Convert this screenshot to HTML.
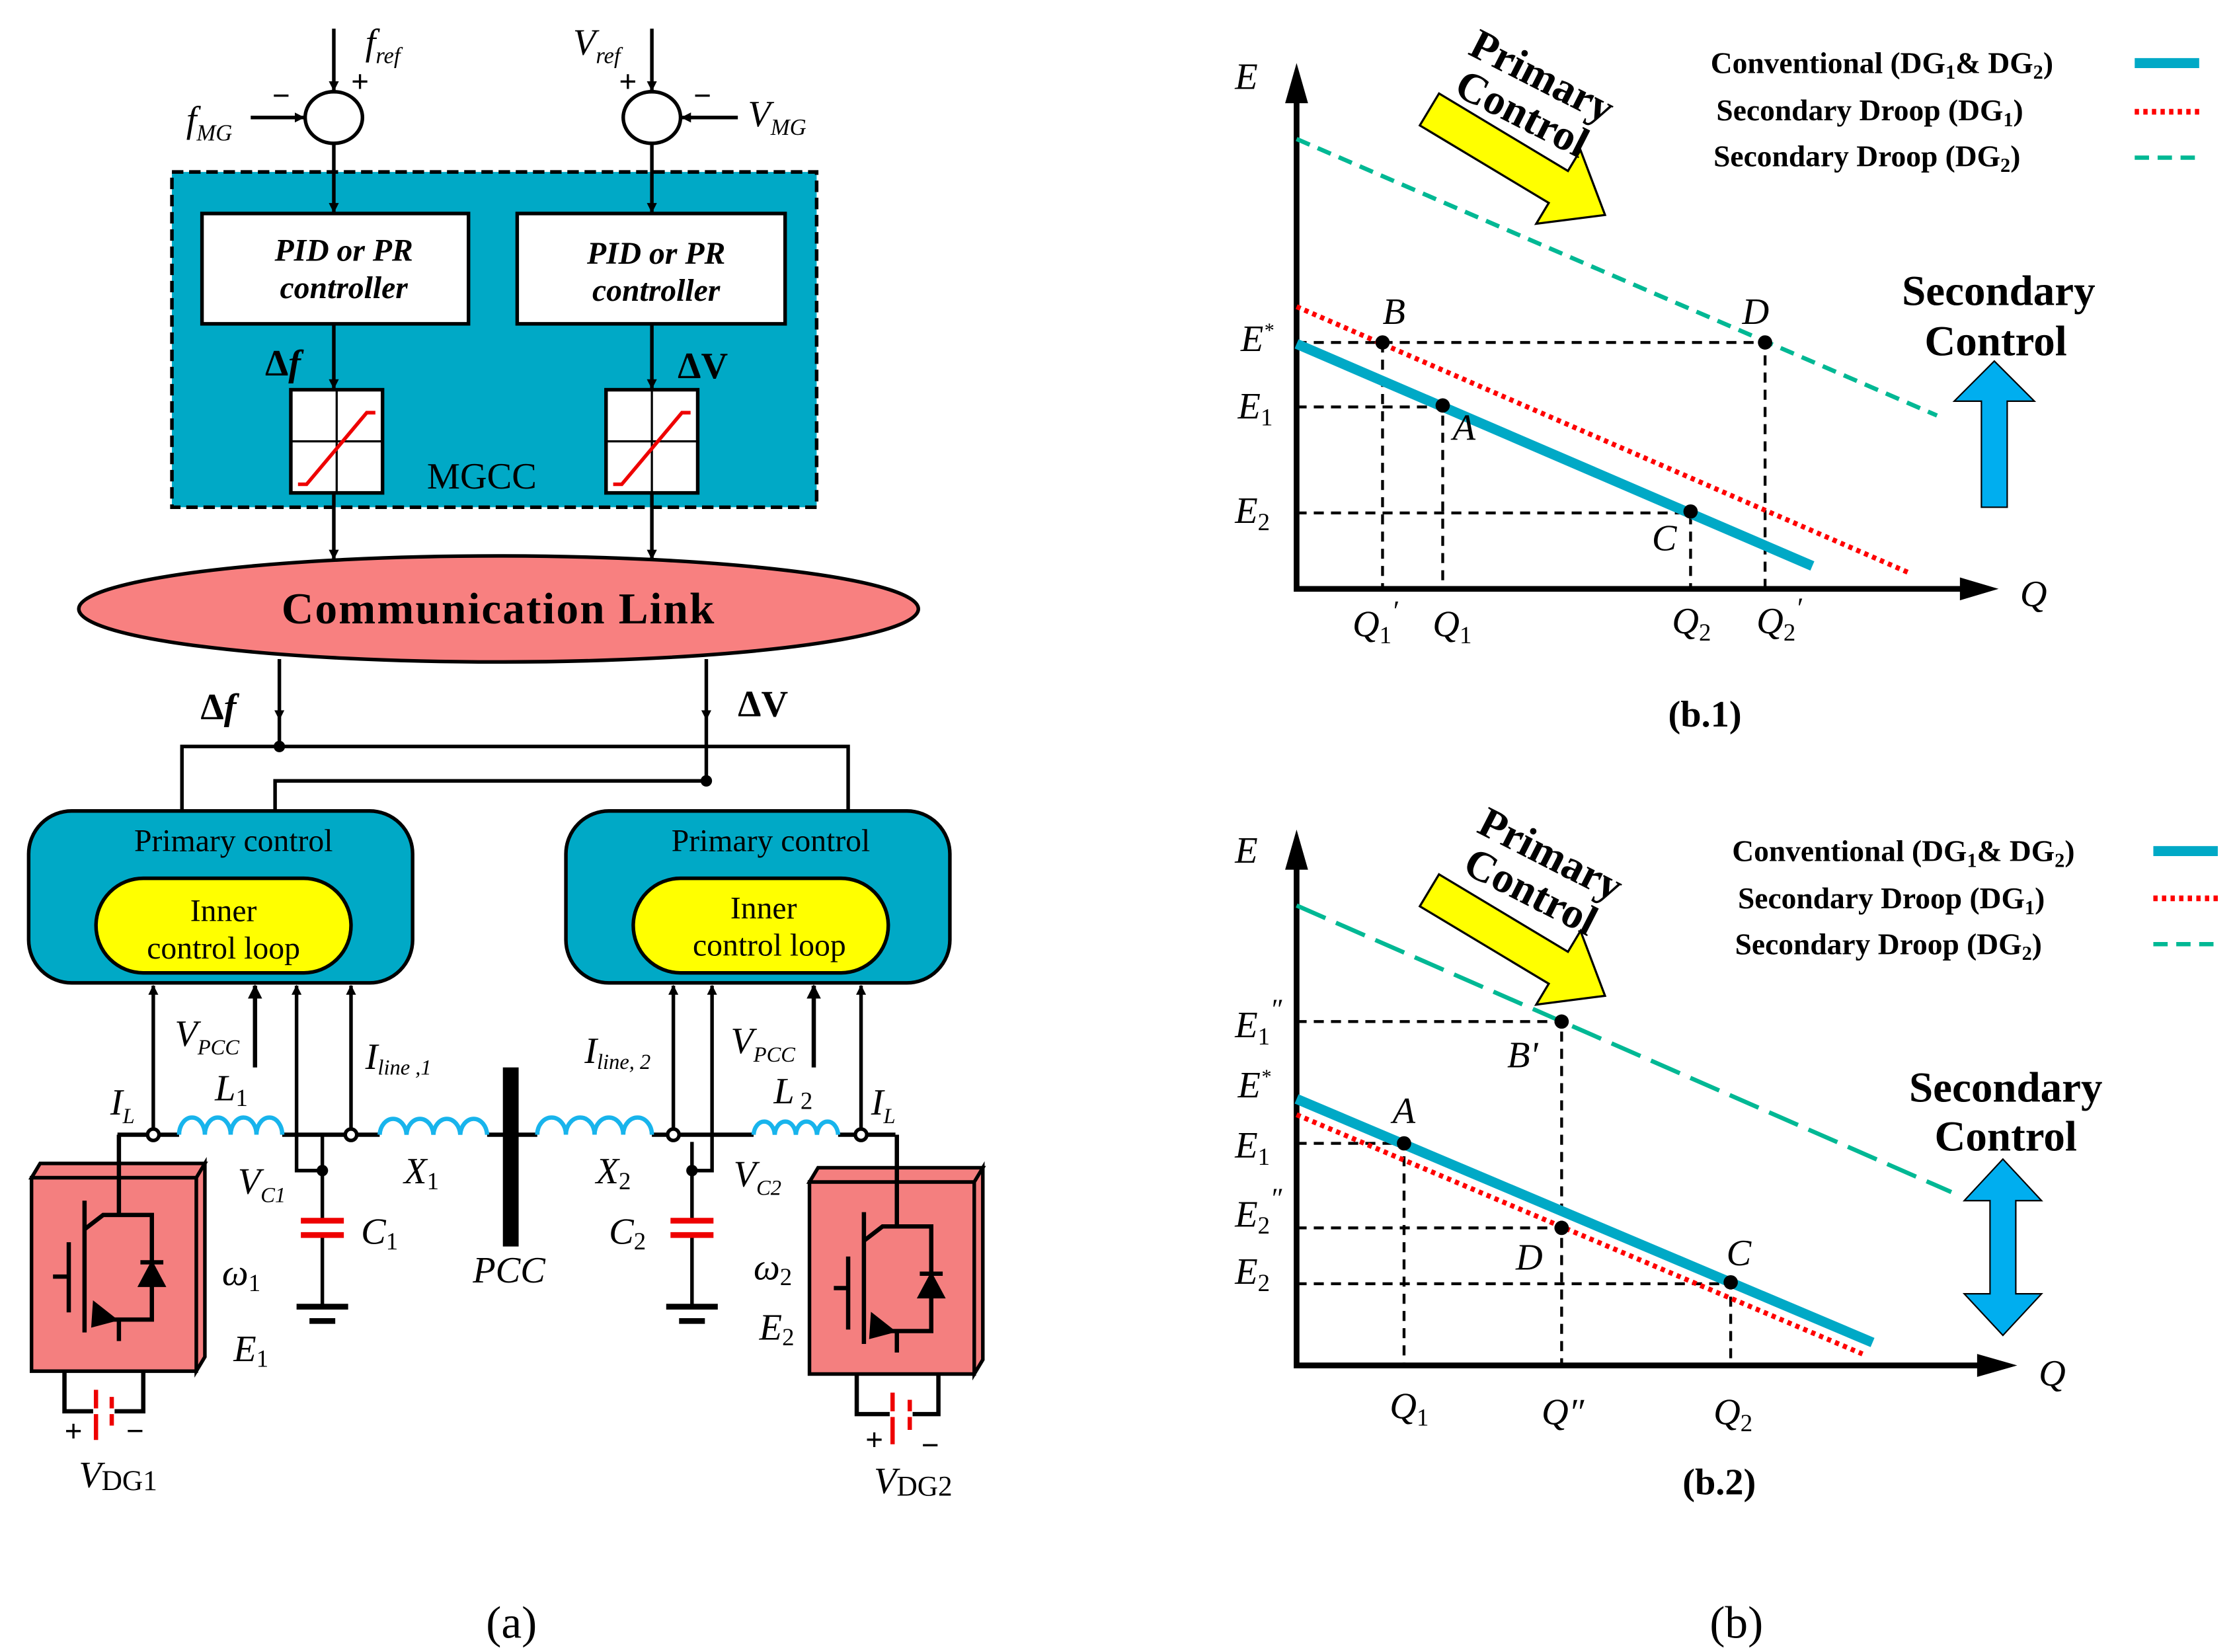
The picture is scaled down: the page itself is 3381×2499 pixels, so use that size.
<!DOCTYPE html>
<html><head><meta charset="utf-8"><style>html,body{margin:0;padding:0;background:#fff}svg{display:block}
text{font-family:"Liberation Serif",serif;fill:#000}</style></head><body>
<svg width="3381" height="2499" viewBox="0 0 1560 1153" xmlns="http://www.w3.org/2000/svg">
<defs>
<marker id="ah" viewBox="0 0 10 10" refX="9" refY="5" markerWidth="7" markerHeight="7" markerUnits="userSpaceOnUse" orient="auto"><path d="M0,0 L10,5 L0,10 z" fill="#000"/></marker>
<marker id="ab" viewBox="0 0 10 10" refX="9" refY="5" markerWidth="10" markerHeight="14" markerUnits="userSpaceOnUse" orient="auto"><path d="M0,0 L10,5 L0,10 z" fill="#000"/></marker>
</defs>
<g stroke="#000" stroke-width="2.5" fill="none">
<line x1="233" y1="20" x2="233" y2="63" marker-end="url(#ah)"/>
<line x1="175" y1="82" x2="212" y2="82" marker-end="url(#ah)"/>
<ellipse cx="233" cy="82" rx="20" ry="18" fill="#fff"/>
<line x1="455" y1="20" x2="455" y2="63" marker-end="url(#ah)"/>
<line x1="515" y1="82" x2="476" y2="82" marker-end="url(#ah)"/>
<ellipse cx="455" cy="82" rx="20" ry="18" fill="#fff"/>
<rect x="120" y="120" width="450" height="234" fill="#00a9c6" stroke-dasharray="8,4"/>
<line x1="233" y1="100" x2="233" y2="148" marker-end="url(#ah)"/>
<line x1="455" y1="100" x2="455" y2="148" marker-end="url(#ah)"/>
<rect x="141" y="149" width="186" height="77" fill="#fff"/>
<rect x="361" y="149" width="187" height="77" fill="#fff"/>
<line x1="233" y1="226" x2="233" y2="271" marker-end="url(#ah)"/>
<line x1="455" y1="226" x2="455" y2="271" marker-end="url(#ah)"/>
<rect x="203" y="272" width="64" height="72" fill="#fff"/>
<rect x="423" y="272" width="64" height="72" fill="#fff"/>
<line x1="203" y1="308" x2="267" y2="308" stroke-width="1.5"/><line x1="235" y1="272" x2="235" y2="344" stroke-width="1.5"/>
<line x1="423" y1="308" x2="487" y2="308" stroke-width="1.5"/><line x1="455" y1="272" x2="455" y2="344" stroke-width="1.5"/>
<path d="M208,338 L214,338 L256,288 L262,288" stroke="#e00"/>
<path d="M428,338 L434,338 L476,288 L482,288" stroke="#e00"/>
<line x1="233" y1="344" x2="233" y2="390" marker-end="url(#ah)"/>
<line x1="455" y1="344" x2="455" y2="390" marker-end="url(#ah)"/>
<ellipse cx="348" cy="425" rx="293" ry="37" fill="#f88080"/>
<line x1="195" y1="460" x2="195" y2="502" marker-end="url(#ah)"/>
<line x1="493" y1="460" x2="493" y2="502" marker-end="url(#ah)"/>
<line x1="195" y1="502" x2="195" y2="521"/>
<line x1="493" y1="502" x2="493" y2="545"/>
<polyline points="127,566 127,521 592,521 592,566"/>
<polyline points="192,566 192,545 493,545"/>
<rect x="20" y="566" width="268" height="120" rx="30" fill="#00a9c6"/>
<rect x="67" y="613" width="178" height="66" rx="33" fill="#ffff00"/>
<rect x="395" y="566" width="268" height="120" rx="30" fill="#00a9c6"/>
<rect x="442" y="613" width="178" height="66" rx="33" fill="#ffff00"/>
<line x1="107" y1="792" x2="107" y2="688" marker-end="url(#ah)"/>
<line x1="178" y1="745" x2="178" y2="688" marker-end="url(#ab)" stroke-width="3"/>
<line x1="207" y1="792" x2="207" y2="688" marker-end="url(#ah)"/>
<line x1="245" y1="792" x2="245" y2="688" marker-end="url(#ah)"/>
<line x1="470" y1="792" x2="470" y2="688" marker-end="url(#ah)"/>
<line x1="497" y1="792" x2="497" y2="688" marker-end="url(#ah)"/>
<line x1="568" y1="745" x2="568" y2="688" marker-end="url(#ab)" stroke-width="3"/>
<line x1="601" y1="792" x2="601" y2="688" marker-end="url(#ah)"/>
<line x1="82" y1="792" x2="125" y2="792" stroke-width="3"/>
<line x1="197" y1="792" x2="265" y2="792" stroke-width="3"/>
<line x1="340" y1="792" x2="375" y2="792" stroke-width="3"/>
<line x1="455" y1="792" x2="526" y2="792" stroke-width="3"/>
<line x1="585" y1="792" x2="625" y2="792" stroke-width="3"/>
<g stroke="#18b4ec" stroke-width="3">
<path d="M125,792 a9,12 0 0 1 18,0 a9,12 0 0 1 18,0 a9,12 0 0 1 18,0 a9,12 0 0 1 18,0"/>
<path d="M265,792 a9.4,12 0 0 1 18.75,0 a9.4,12 0 0 1 18.75,0 a9.4,12 0 0 1 18.75,0 a9.4,12 0 0 1 18.75,0"/>
<path d="M375,792 a10,12 0 0 1 20,0 a10,12 0 0 1 20,0 a10,12 0 0 1 20,0 a10,12 0 0 1 20,0"/>
<path d="M526,792 a7.4,10 0 0 1 14.75,0 a7.4,10 0 0 1 14.75,0 a7.4,10 0 0 1 14.75,0 a7.4,10 0 0 1 14.75,0"/>
</g>
<circle cx="107" cy="792" r="4" fill="#fff"/><circle cx="245" cy="792" r="4" fill="#fff"/>
<circle cx="470" cy="792" r="4" fill="#fff"/><circle cx="601" cy="792" r="4" fill="#fff"/>
<polyline points="207,792 207,817 225,817"/>
<line x1="225" y1="792" x2="225" y2="852"/><line x1="225" y1="862" x2="225" y2="912"/>
<line x1="210" y1="852" x2="240" y2="852" stroke="#e00" stroke-width="4"/><line x1="210" y1="862" x2="240" y2="862" stroke="#e00" stroke-width="4"/>
<line x1="207" y1="912" x2="243" y2="912" stroke-width="4"/><line x1="216" y1="922" x2="234" y2="922" stroke-width="4"/>
<polyline points="497,792 497,817 483,817"/>
<line x1="483" y1="797" x2="483" y2="852"/><line x1="483" y1="862" x2="483" y2="912"/>
<line x1="468" y1="852" x2="498" y2="852" stroke="#e00" stroke-width="4"/><line x1="468" y1="862" x2="498" y2="862" stroke="#e00" stroke-width="4"/>
<line x1="465" y1="912" x2="501" y2="912" stroke-width="4"/><line x1="474" y1="922" x2="492" y2="922" stroke-width="4"/>
<path d="M22,822 L28,812 L143,812 L137,822 z M137,822 L143,812 L143,947 L137,957 z" fill="#f47f7f"/>
<rect x="22" y="822" width="115" height="135" fill="#f47f7f"/>
<path d="M565,825 L571,815 L686,815 L680,825 z M680,825 L686,815 L686,949 L680,959 z" fill="#f47f7f"/>
<rect x="565" y="825" width="115" height="134" fill="#f47f7f"/>
<!-- IGBT 1 -->
<g stroke-width="3">
<line x1="83" y1="792" x2="83" y2="848"/>
<line x1="59" y1="838" x2="59" y2="930"/>
<line x1="48" y1="867" x2="48" y2="916"/>
<line x1="37" y1="891" x2="48" y2="891"/>
<polyline points="59,858 72,848 106,848 106,921 65,921"/>
<line x1="83" y1="921" x2="83" y2="936"/>
<line x1="98" y1="881" x2="114" y2="881"/>
</g>
<path d="M98,897 L114,897 L106,882 z" fill="#000"/>
<path d="M66,910 L80,921 L65,925 z" fill="#000"/>
<!-- IGBT 2 -->
<g stroke-width="3">
<line x1="626" y1="792" x2="626" y2="856"/>
<line x1="603" y1="846" x2="603" y2="938"/>
<line x1="592" y1="877" x2="592" y2="928"/>
<line x1="582" y1="899" x2="592" y2="899"/>
<polyline points="603,866 616,856 650,856 650,929 608,929"/>
<line x1="626" y1="929" x2="626" y2="944"/>
<line x1="642" y1="889" x2="658" y2="889"/>
</g>
<path d="M642,905 L658,905 L650,890 z" fill="#000"/>
<path d="M609,918 L623,929 L608,933 z" fill="#000"/>
<polyline points="45,957 45,985 100,985 100,957" stroke-width="3"/>
<line x1="67" y1="970" x2="67" y2="1005" stroke="#e00" stroke-width="3"/><line x1="78" y1="975" x2="78" y2="995" stroke="#e00" stroke-width="3"/>
<line x1="65" y1="985" x2="80" y2="985" stroke="#fff" stroke-width="4"/>
<polyline points="598,959 598,987 655,987 655,959" stroke-width="3"/>
<line x1="623" y1="972" x2="623" y2="1008" stroke="#e00" stroke-width="3"/><line x1="635" y1="977" x2="635" y2="998" stroke="#e00" stroke-width="3"/>
<line x1="621" y1="987" x2="637" y2="987" stroke="#fff" stroke-width="4"/>
</g>
<rect x="351" y="745" width="11" height="125" fill="#000"/>
<g fill="#000"><circle cx="195" cy="521" r="4"/><circle cx="493" cy="545" r="4"/><circle cx="225" cy="817" r="4"/><circle cx="483" cy="817" r="4"/></g>
<g font-style="italic" font-size="26">
<text x="255" y="38">f<tspan font-size="16" dy="6">ref</tspan></text>
<text x="130" y="92">f<tspan font-size="16" dy="6">MG</tspan></text>
<text x="400" y="38">V<tspan font-size="16" dy="6">ref</tspan></text>
<text x="522" y="88">V<tspan font-size="16" dy="6">MG</tspan></text>
</g>
<g font-size="22" font-weight="bold"><text x="245" y="64">+</text><text x="190" y="74">−</text><text x="432" y="64">+</text><text x="484" y="74">−</text></g>
<g font-size="22" font-weight="bold" font-style="italic" text-anchor="middle">
<text x="240" y="182">PID or PR</text><text x="240" y="208">controller</text>
<text x="458" y="184">PID or PR</text><text x="458" y="210">controller</text>
</g>
<g font-size="26" font-weight="bold"><text x="185" y="262">Δ<tspan font-style="italic">f</tspan></text><text x="473" y="264">ΔV</text>
<text x="140" y="502">Δ<tspan font-style="italic">f</tspan></text><text x="515" y="500">ΔV</text></g>
<text x="298" y="341" font-size="26">MGCC</text>
<text x="348" y="435" font-size="31" font-weight="bold" text-anchor="middle" letter-spacing="1">Communication Link</text>
<g font-size="22" text-anchor="middle"><text x="163" y="594">Primary control</text><text x="538" y="594">Primary control</text>
<text x="156" y="643">Inner</text><text x="156" y="669">control loop</text>
<text x="533" y="641">Inner</text><text x="537" y="667">control loop</text></g>
<g font-style="italic" font-size="26">
<text x="122" y="730">V<tspan font-size="15" dy="6">PCC</tspan></text>
<text x="255" y="746">I<tspan font-size="15" dy="4">line ,1</tspan></text>
<text x="408" y="742">I<tspan font-size="15" dy="4">line, 2</tspan></text>
<text x="510" y="735">V<tspan font-size="15" dy="6">PCC</tspan></text>
<text x="77" y="778">I<tspan font-size="15" dy="6">L</tspan></text>
<text x="608" y="778">I<tspan font-size="15" dy="6">L</tspan></text>
<text x="150" y="768">L<tspan font-size="17" dy="4" font-style="normal">1</tspan></text>
<text x="540" y="770">L<tspan font-size="17" dy="4" font-style="normal"> 2</tspan></text>
<text x="166" y="833">V<tspan font-size="15" dy="6">C1</tspan></text>
<text x="512" y="828">V<tspan font-size="15" dy="6">C2</tspan></text>
<text x="282" y="826">X<tspan font-size="17" dy="4" font-style="normal">1</tspan></text>
<text x="416" y="826">X<tspan font-size="17" dy="4" font-style="normal">2</tspan></text>
<text x="252" y="868">C<tspan font-size="17" dy="4" font-style="normal">1</tspan></text>
<text x="425" y="868">C<tspan font-size="17" dy="4" font-style="normal">2</tspan></text>
<text x="330" y="895">PCC</text>
<text x="155" y="897">ω<tspan font-size="17" dy="4" font-style="normal">1</tspan></text>
<text x="526" y="893">ω<tspan font-size="17" dy="4" font-style="normal">2</tspan></text>
<text x="163" y="950">E<tspan font-size="17" dy="4" font-style="normal">1</tspan></text>
<text x="530" y="935">E<tspan font-size="17" dy="4" font-style="normal">2</tspan></text>
<text x="55" y="1038">V<tspan font-size="20" dy="2" font-style="normal">DG1</tspan></text>
<text x="610" y="1042">V<tspan font-size="20" dy="2" font-style="normal">DG2</tspan></text>
</g>
<g font-size="22" font-weight="bold"><text x="45" y="1006">+</text><text x="88" y="1006">−</text><text x="604" y="1012">+</text><text x="643" y="1016">−</text></g>
<text x="357" y="1143" font-size="32" text-anchor="middle">(a)</text>
<text x="1212" y="1143" font-size="32" text-anchor="middle">(b)</text>

<!-- b.1 -->
<g stroke="#000" stroke-width="4" fill="none">
<polyline points="905,70 905,411 1370,411"/>
</g>
<path d="M897,72 L905,44 L913,72 z M1368,403 L1395,411 L1368,419 z" fill="#000"/>
<g stroke="#000" stroke-width="2" stroke-dasharray="7,5" fill="none">
<polyline points="905,239 1232,239 1232,411"/><line x1="965" y1="239" x2="965" y2="411"/>
<polyline points="905,284 1007,284 1007,411"/><polyline points="905,358 1180,358 1180,411"/>
</g>
<line x1="905" y1="97" x2="1352" y2="290" stroke="#00b894" stroke-width="3" stroke-dasharray="10,6"/>
<line x1="905" y1="214" x2="1333" y2="400" stroke="#f00" stroke-width="3.5" stroke-dasharray="3,3"/>
<line x1="905" y1="240" x2="1265" y2="395" stroke="#00a9c6" stroke-width="7"/>
<g fill="#000"><circle cx="965" cy="239" r="5"/><circle cx="1232" cy="239" r="5"/><circle cx="1007" cy="283" r="5"/><circle cx="1180" cy="357" r="5"/></g>
<g font-style="italic" font-size="26">
<text x="862" y="62">E</text><text x="1410" y="423">Q</text>
<text x="965" y="226">B</text><text x="1216" y="226">D</text><text x="1014" y="307">A</text><text x="1153" y="384">C</text>
<text x="866" y="245">E<tspan font-size="14" dy="-10">*</tspan></text>
<text x="864" y="292">E<tspan font-size="17" dy="5" font-style="normal">1</tspan></text>
<text x="862" y="365">E<tspan font-size="17" dy="5" font-style="normal">2</tspan></text>
<text x="944" y="444">Q<tspan font-size="17" dy="5" font-style="normal">1</tspan><tspan dy="-16" font-size="20">′</tspan></text>
<text x="1000" y="444">Q<tspan font-size="17" dy="5" font-style="normal">1</tspan></text>
<text x="1167" y="442">Q<tspan font-size="17" dy="5" font-style="normal">2</tspan></text>
<text x="1226" y="442">Q<tspan font-size="17" dy="5" font-style="normal">2</tspan><tspan dy="-16" font-size="20">′</tspan></text>
</g>
<g font-size="21" font-weight="bold">
<text x="1194" y="51">Conventional (DG<tspan font-size="14" dy="4">1</tspan><tspan dy="-4">&amp; DG</tspan><tspan font-size="14" dy="4">2</tspan><tspan dy="-4">)</tspan></text>
<text x="1198" y="84">Secondary Droop (DG<tspan font-size="14" dy="4">1</tspan><tspan dy="-4">)</tspan></text>
<text x="1196" y="116">Secondary Droop (DG<tspan font-size="14" dy="4">2</tspan><tspan dy="-4">)</tspan></text>
</g>
<line x1="1490" y1="44" x2="1535" y2="44" stroke="#00a9c6" stroke-width="7"/>
<line x1="1490" y1="78" x2="1535" y2="78" stroke="#f00" stroke-width="4" stroke-dasharray="3,3"/>
<line x1="1490" y1="110" x2="1535" y2="110" stroke="#00b894" stroke-width="3" stroke-dasharray="10,6"/>
<g transform="translate(1062,115) rotate(31)">
<polygon points="-75,-13 30,-13 30,-30 68,0 30,30 30,13 -75,13" fill="#ffff00" stroke="#000" stroke-width="1.5"/>
</g>
<g font-size="30" font-weight="bold" text-anchor="middle">
<text transform="translate(1072,62) rotate(27)">Primary</text>
<text transform="translate(1058,88) rotate(27)">Control</text>
</g>
<g font-size="30" font-weight="bold" text-anchor="middle"><text x="1395" y="213">Secondary</text><text x="1393" y="248">Control</text></g>
<polygon points="1383,354 1401,354 1401,280 1420,280 1392,252 1364,280 1383,280" fill="#00aeef" stroke="#000" stroke-width="1"/>
<text x="1190" y="507" font-size="26" font-weight="bold" text-anchor="middle">(b.1)</text>

<!-- b.2 -->
<g stroke="#000" stroke-width="4" fill="none">
<polyline points="905,605 905,953 1385,953"/>
</g>
<path d="M897,607 L905,579 L913,607 z M1380,945 L1408,953 L1380,961 z" fill="#000"/>
<g stroke="#000" stroke-width="2" stroke-dasharray="7,5" fill="none">
<polyline points="905,713 1090,713 1090,953"/>
<polyline points="905,798 980,798 980,953"/>
<line x1="905" y1="857" x2="1090" y2="857"/>
<polyline points="905,896 1208,896 1208,953"/>
</g>
<line x1="905" y1="632" x2="1362" y2="832" stroke="#00b894" stroke-width="3" stroke-dasharray="22,8"/>
<line x1="905" y1="778" x2="1300" y2="945" stroke="#f00" stroke-width="3.5" stroke-dasharray="3,3"/>
<line x1="905" y1="767" x2="1307" y2="937" stroke="#00a9c6" stroke-width="7"/>
<g fill="#000"><circle cx="980" cy="798" r="5"/><circle cx="1090" cy="713" r="5"/><circle cx="1090" cy="857" r="5"/><circle cx="1208" cy="895" r="5"/></g>
<g font-style="italic" font-size="26">
<text x="862" y="602">E</text><text x="1423" y="967">Q</text>
<text x="972" y="784">A</text><text x="1052" y="745">B'</text><text x="1058" y="886">D</text><text x="1205" y="883">C</text>
<text x="862" y="724">E<tspan font-size="17" dy="5" font-style="normal">1</tspan><tspan dy="-18" font-size="20">″</tspan></text>
<text x="864" y="766">E<tspan font-size="14" dy="-10">*</tspan></text>
<text x="862" y="808">E<tspan font-size="17" dy="5" font-style="normal">1</tspan></text>
<text x="862" y="856">E<tspan font-size="17" dy="5" font-style="normal">2</tspan><tspan dy="-18" font-size="20">″</tspan></text>
<text x="862" y="896">E<tspan font-size="17" dy="5" font-style="normal">2</tspan></text>
<text x="970" y="990">Q<tspan font-size="17" dy="5" font-style="normal">1</tspan></text>
<text x="1076" y="994">Q″</text>
<text x="1196" y="994">Q<tspan font-size="17" dy="5" font-style="normal">2</tspan></text>
</g>
<g font-size="21" font-weight="bold">
<text x="1209" y="601">Conventional (DG<tspan font-size="14" dy="4">1</tspan><tspan dy="-4">&amp; DG</tspan><tspan font-size="14" dy="4">2</tspan><tspan dy="-4">)</tspan></text>
<text x="1213" y="634">Secondary Droop (DG<tspan font-size="14" dy="4">1</tspan><tspan dy="-4">)</tspan></text>
<text x="1211" y="666">Secondary Droop (DG<tspan font-size="14" dy="4">2</tspan><tspan dy="-4">)</tspan></text>
</g>
<line x1="1503" y1="594" x2="1548" y2="594" stroke="#00a9c6" stroke-width="7"/>
<line x1="1503" y1="627" x2="1548" y2="627" stroke="#f00" stroke-width="4" stroke-dasharray="3,3"/>
<line x1="1503" y1="659" x2="1548" y2="659" stroke="#00b894" stroke-width="3" stroke-dasharray="10,6"/>
<g transform="translate(1062,660) rotate(31)">
<polygon points="-75,-13 30,-13 30,-30 68,0 30,30 30,13 -75,13" fill="#ffff00" stroke="#000" stroke-width="1.5"/>
</g>
<g font-size="30" font-weight="bold" text-anchor="middle">
<text transform="translate(1078,605) rotate(27)">Primary</text>
<text transform="translate(1064,631) rotate(27)">Control</text>
</g>
<g font-size="30" font-weight="bold" text-anchor="middle"><text x="1400" y="769">Secondary</text><text x="1400" y="803">Control</text></g>
<polygon points="1389,838 1389,903 1371,903 1398,932 1425,903 1407,903 1407,838 1425,838 1398,809 1371,838" fill="#00aeef" stroke="#000" stroke-width="1"/>
<text x="1200" y="1043" font-size="26" font-weight="bold" text-anchor="middle">(b.2)</text>
</svg>
</body></html>
